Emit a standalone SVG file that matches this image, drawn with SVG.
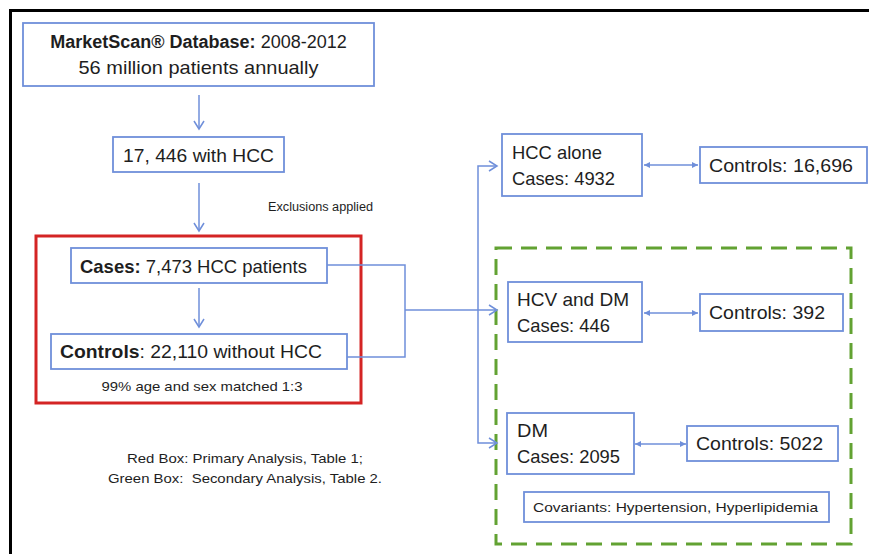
<svg xmlns="http://www.w3.org/2000/svg" width="869" height="554" viewBox="0 0 869 554">
<style>
.box{fill:#fff;stroke:#6f8fda;stroke-width:1.8}
.t{font-family:"Liberation Sans",Arial,sans-serif;fill:#1e1e1e}
.n{font-size:19px}
.s{font-size:13px}
.b{font-weight:bold}
.c{text-anchor:middle}
.ln{fill:none;stroke:#6f8fda;stroke-width:1.5}
</style>
<defs>
<marker id="open" viewBox="-10 -6 12 12" refX="0" refY="0" markerWidth="12" markerHeight="12" markerUnits="userSpaceOnUse" orient="auto">
<path d="M-8,-5 L0,0 L-8,5" fill="none" stroke="#6f8fda" stroke-width="1.5"/>
</marker>
<marker id="tri" viewBox="-7 -4 8 8" refX="0" refY="0" markerWidth="8" markerHeight="8" markerUnits="userSpaceOnUse" orient="auto-start-reverse">
<path d="M-6,-3 L0,0 L-6,3 Z" fill="#6f8fda"/>
</marker>
</defs>
<rect width="869" height="554" fill="#fff"/>
<path d="M10.5,554 V10.5 H869" fill="none" stroke="#000" stroke-width="3"/>

<rect x="36" y="236" width="325" height="167" fill="none" stroke="#d42424" stroke-width="3"/>
<rect x="496" y="248" width="355" height="296" fill="none" stroke="#62a232" stroke-width="3" stroke-dasharray="16 9"/>

<g id="connectors">
<path class="ln" d="M199,95 V129" marker-end="url(#open)"/>
<path class="ln" d="M199,183 V231" marker-end="url(#open)"/>
<path class="ln" d="M199,288 V327" marker-end="url(#open)"/>
<path class="ln" d="M327,265 H405 V357 H347"/>
<path class="ln" d="M405,310 H497" marker-end="url(#open)"/>
<path class="ln" d="M478,310 V166 H497" marker-end="url(#open)"/>
<path class="ln" d="M478,310 V443 H497" marker-end="url(#open)"/>
<path class="ln" d="M644,165 H698" marker-start="url(#tri)" marker-end="url(#tri)"/>
<path class="ln" d="M644,313 H698" marker-start="url(#tri)" marker-end="url(#tri)"/>
<path class="ln" d="M635,444 H686" marker-start="url(#tri)" marker-end="url(#tri)"/>
</g>

<g id="marketscan">
<rect class="box" x="23" y="23" width="351" height="63"/>
<text class="t c" font-size="18" x="198.5" y="48"><tspan class="b">MarketScan® Database:</tspan> 2008-2012</text>
<text class="t n c" x="198.5" y="74" textLength="240" lengthAdjust="spacingAndGlyphs">56 million patients annually</text>
</g>

<g id="hcc17446">
<rect class="box" x="113" y="137" width="171" height="35"/>
<text class="t n c" x="198.5" y="162" textLength="151" lengthAdjust="spacingAndGlyphs">17, 446 with HCC</text>
</g>

<g id="exclusions">
<text class="t" font-size="12" x="268" y="211" textLength="105" lengthAdjust="spacingAndGlyphs">Exclusions applied</text>
</g>

<g id="cases">
<rect class="box" x="71" y="248" width="256" height="35"/>
<text class="t n" x="80" y="273" textLength="227" lengthAdjust="spacingAndGlyphs"><tspan class="b">Cases:</tspan> 7,473 HCC patients</text>
</g>

<g id="controls">
<rect class="box" x="51" y="334" width="296" height="35"/>
<text class="t n" x="60" y="358" textLength="262" lengthAdjust="spacingAndGlyphs"><tspan class="b">Controls</tspan>: 22,110 without HCC</text>
</g>

<g id="matched">
<text class="t s c" x="202" y="391" textLength="201" lengthAdjust="spacingAndGlyphs">99% age and sex matched 1:3</text>
</g>

<g id="legend">
<text class="t s c" x="245" y="463" textLength="236" lengthAdjust="spacingAndGlyphs">Red Box: Primary Analysis, Table 1;</text>
<text class="t s c" x="245" y="483" textLength="274" lengthAdjust="spacingAndGlyphs" xml:space="preserve">Green Box:  Secondary Analysis, Table 2.</text>
</g>

<g id="hccalone">
<rect class="box" x="502" y="134" width="140" height="62"/>
<text class="t n" x="512" y="159" textLength="90" lengthAdjust="spacingAndGlyphs">HCC alone</text>
<text class="t n" x="512" y="185" textLength="103" lengthAdjust="spacingAndGlyphs">Cases: 4932</text>
</g>

<g id="controls16696">
<rect class="box" x="700" y="147" width="167" height="36"/>
<text class="t n" x="709" y="172" textLength="144" lengthAdjust="spacingAndGlyphs">Controls: 16,696</text>
</g>

<g id="hcvdm">
<rect class="box" x="508" y="282" width="134" height="60"/>
<text class="t n" x="517" y="306" textLength="112" lengthAdjust="spacingAndGlyphs">HCV and DM</text>
<text class="t n" x="517" y="332" textLength="93" lengthAdjust="spacingAndGlyphs">Cases: 446</text>
</g>

<g id="controls392">
<rect class="box" x="700" y="294" width="143" height="37"/>
<text class="t n" x="709" y="319" textLength="116" lengthAdjust="spacingAndGlyphs">Controls: 392</text>
</g>

<g id="dm">
<rect class="box" x="507" y="413" width="127" height="61"/>
<text class="t n" x="517" y="437" textLength="31" lengthAdjust="spacingAndGlyphs">DM</text>
<text class="t n" x="517" y="463" textLength="103" lengthAdjust="spacingAndGlyphs">Cases: 2095</text>
</g>

<g id="controls5022">
<rect class="box" x="687" y="426" width="151" height="35"/>
<text class="t n" x="696" y="450" textLength="127" lengthAdjust="spacingAndGlyphs">Controls: 5022</text>
</g>

<g id="covariants">
<rect class="box" x="524" y="492" width="305" height="30"/>
<text class="t" font-size="13.5" x="533" y="512" textLength="285" lengthAdjust="spacingAndGlyphs">Covariants: Hypertension, Hyperlipidemia</text>
</g>
</svg>
